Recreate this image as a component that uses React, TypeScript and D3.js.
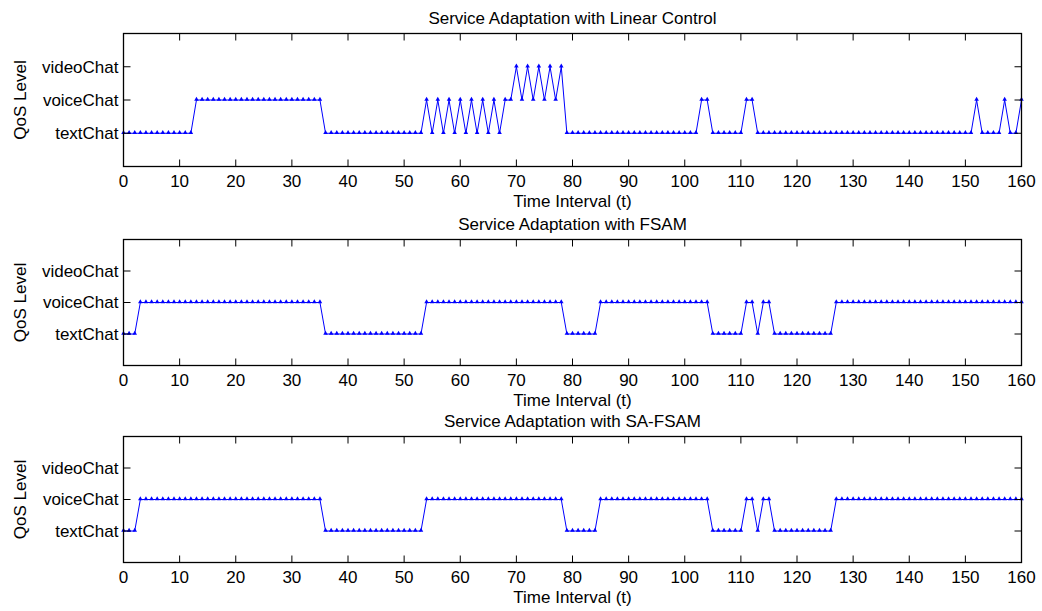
import React from "react";
import * as d3 from "d3";

// ---------- data ----------
const titles: string[] = [
  "Service Adaptation with Linear Control",
  "Service Adaptation with FSAM",
  "Service Adaptation with SA-FSAM",
];
const levelLabels: string[] = ["textChat", "voiceChat", "videoChat"];
const levelValues: number[] = [1, 2, 3];
const xTicks: number[] = [0, 10, 20, 30, 40, 50, 60, 70, 80, 90, 100, 110, 120, 130, 140, 150, 160];
const xLabel = "Time Interval (t)";
const yLabel = "QoS Level";

// QoS level per time interval t = 0..160
const linearControl: number[] = [
  1, 1, 1, 1, 1, 1, 1, 1, 1, 1, 1, 1, 1, 2, 2, 2, 2, 2, 2, 2,
  2, 2, 2, 2, 2, 2, 2, 2, 2, 2, 2, 2, 2, 2, 2, 2, 1, 1, 1, 1,
  1, 1, 1, 1, 1, 1, 1, 1, 1, 1, 1, 1, 1, 1, 2, 1, 2, 1, 2, 1,
  2, 1, 2, 1, 2, 1, 2, 1, 2, 2, 3, 2, 3, 2, 3, 2, 3, 2, 3, 1,
  1, 1, 1, 1, 1, 1, 1, 1, 1, 1, 1, 1, 1, 1, 1, 1, 1, 1, 1, 1,
  1, 1, 1, 2, 2, 1, 1, 1, 1, 1, 1, 2, 2, 1, 1, 1, 1, 1, 1, 1,
  1, 1, 1, 1, 1, 1, 1, 1, 1, 1, 1, 1, 1, 1, 1, 1, 1, 1, 1, 1,
  1, 1, 1, 1, 1, 1, 1, 1, 1, 1, 1, 1, 2, 1, 1, 1, 1, 2, 1, 1,
  2,
];
const fsam: number[] = [
  1, 1, 1, 2, 2, 2, 2, 2, 2, 2, 2, 2, 2, 2, 2, 2, 2, 2, 2, 2,
  2, 2, 2, 2, 2, 2, 2, 2, 2, 2, 2, 2, 2, 2, 2, 2, 1, 1, 1, 1,
  1, 1, 1, 1, 1, 1, 1, 1, 1, 1, 1, 1, 1, 1, 2, 2, 2, 2, 2, 2,
  2, 2, 2, 2, 2, 2, 2, 2, 2, 2, 2, 2, 2, 2, 2, 2, 2, 2, 2, 1,
  1, 1, 1, 1, 1, 2, 2, 2, 2, 2, 2, 2, 2, 2, 2, 2, 2, 2, 2, 2,
  2, 2, 2, 2, 2, 1, 1, 1, 1, 1, 1, 2, 2, 1, 2, 2, 1, 1, 1, 1,
  1, 1, 1, 1, 1, 1, 1, 2, 2, 2, 2, 2, 2, 2, 2, 2, 2, 2, 2, 2,
  2, 2, 2, 2, 2, 2, 2, 2, 2, 2, 2, 2, 2, 2, 2, 2, 2, 2, 2, 2,
  2,
];
const saFsam: number[] = [
  1, 1, 1, 2, 2, 2, 2, 2, 2, 2, 2, 2, 2, 2, 2, 2, 2, 2, 2, 2,
  2, 2, 2, 2, 2, 2, 2, 2, 2, 2, 2, 2, 2, 2, 2, 2, 1, 1, 1, 1,
  1, 1, 1, 1, 1, 1, 1, 1, 1, 1, 1, 1, 1, 1, 2, 2, 2, 2, 2, 2,
  2, 2, 2, 2, 2, 2, 2, 2, 2, 2, 2, 2, 2, 2, 2, 2, 2, 2, 2, 1,
  1, 1, 1, 1, 1, 2, 2, 2, 2, 2, 2, 2, 2, 2, 2, 2, 2, 2, 2, 2,
  2, 2, 2, 2, 2, 1, 1, 1, 1, 1, 1, 2, 2, 1, 2, 2, 1, 1, 1, 1,
  1, 1, 1, 1, 1, 1, 1, 2, 2, 2, 2, 2, 2, 2, 2, 2, 2, 2, 2, 2,
  2, 2, 2, 2, 2, 2, 2, 2, 2, 2, 2, 2, 2, 2, 2, 2, 2, 2, 2, 2,
  2,
];
const seriesList: number[][] = [linearControl, fsam, saFsam];

// ---------- layout ----------
const W = 1042;
const H = 611;
const LEFT = 123.5;
const RIGHT = 1021.5;
const PANELS = [
  { top: 33.5, bottom: 166.5 },
  { top: 239.5, bottom: 365.5 },
  { top: 436.5, bottom: 562.5 },
];
const TICK = 7;
const FONT = "'Liberation Sans', Arial, Helvetica, sans-serif";
const FS = 17;
const BLUE = "#0000ff";

function Panel({ idx }: { idx: number }) {
  const { top, bottom } = PANELS[idx];
  const data = seriesList[idx];
  const x = d3.scaleLinear().domain([0, 160]).range([LEFT, RIGHT]);
  const y = d3.scaleLinear().domain([0, 4]).range([bottom, top]);
  const line = d3
    .line<number>()
    .x((_, i) => x(i))
    .y((d) => y(d));
  const tri = d3.symbol().type(d3.symbolTriangle).size(9)() as string;
  const midX = (LEFT + RIGHT) / 2;
  const midY = (top + bottom) / 2;

  return (
    <g>
      {/* title */}
      <text x={midX} y={top - 10} textAnchor="middle" fontSize={FS} fontFamily={FONT} fill="#000">
        {titles[idx]}
      </text>
      {/* data line */}
      <path d={line(data) as string} fill="none" stroke={BLUE} strokeWidth={1} />
      {data.map((d, i) => (
        <path key={i} d={tri} transform={`translate(${x(i)},${y(d) - 0.5})`} fill={BLUE} stroke="none" />
      ))}
      {/* box */}
      <rect x={LEFT} y={top} width={RIGHT - LEFT} height={bottom - top} fill="none" stroke="#000" strokeWidth={1.3} />
      {/* x ticks */}
      {xTicks.map((t) => (
        <g key={t}>
          <line x1={x(t)} x2={x(t)} y1={bottom} y2={bottom - TICK} stroke="#000" strokeWidth={1} />
          <line x1={x(t)} x2={x(t)} y1={top} y2={top + TICK} stroke="#000" strokeWidth={1} />
          <text x={x(t)} y={bottom + 20} textAnchor="middle" fontSize={FS} fontFamily={FONT} fill="#000">
            {t}
          </text>
        </g>
      ))}
      {/* y ticks */}
      {levelValues.map((v, k) => (
        <g key={v}>
          <line x1={LEFT} x2={LEFT + TICK} y1={y(v)} y2={y(v)} stroke="#000" strokeWidth={1} />
          <line x1={RIGHT} x2={RIGHT - TICK} y1={y(v)} y2={y(v)} stroke="#000" strokeWidth={1} />
          <text x={LEFT - 5} y={y(v)} dy="0.35em" textAnchor="end" fontSize={FS} fontFamily={FONT} fill="#000">
            {levelLabels[k]}
          </text>
        </g>
      ))}
      {/* axis labels */}
      <text x={midX} y={bottom + 40} textAnchor="middle" fontSize={FS} fontFamily={FONT} fill="#000">
        {xLabel}
      </text>
      <text
        transform={`translate(26,${midY}) rotate(-90)`}
        textAnchor="middle"
        fontSize={FS}
        fontFamily={FONT}
        fill="#000"
      >
        {yLabel}
      </text>
    </g>
  );
}

export default function App() {
  return (
    <svg
      width={W}
      height={H}
      viewBox={`0 0 ${W} ${H}`}
      style={{ position: "absolute", left: 0, top: 0, display: "block", background: "#fff" }}
    >
      <rect x={0} y={0} width={W} height={H} fill="#fff" />
      {PANELS.map((_, i) => (
        <Panel key={i} idx={i} />
      ))}
    </svg>
  );
}
